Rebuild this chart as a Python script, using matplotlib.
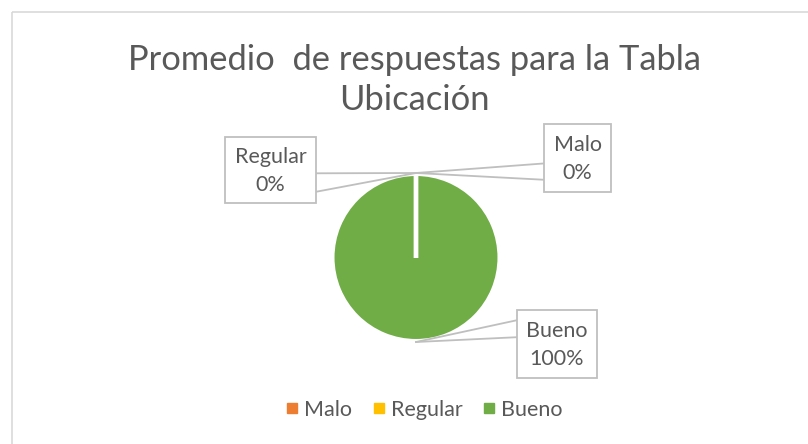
import matplotlib
matplotlib.use("Agg")
import matplotlib.pyplot as plt
from matplotlib.patches import Rectangle
from matplotlib.lines import Line2D
import numpy as np

# ---- data ----
categories = ["Malo", "Regular", "Bueno"]
values = [0, 0, 100]
colors = ["#ED7D31", "#FFC000", "#70AD47"]
title = "Promedio  de respuestas para la Tabla\nUbicación"

W, H = 808, 444
plt.rcParams['font.family'] = ['Lato', 'DejaVu Sans']
TXT = "#595959"
GRID = "#BFBFBF"

fig = plt.figure(figsize=(W / 100, H / 100), dpi=100)

# pie
cx, cy, r = 416, 257.5, 83
half = 100
ax = fig.add_axes([(cx - half) / W, (H - cy - half) / H, 2 * half / W, 2 * half / H])
wedges, _ = ax.pie(values, colors=colors, startangle=90, counterclock=False, radius=1,
                   wedgeprops=dict(edgecolor="white", linewidth=2.2))
# radial slice borders (a full 360 wedge has no radial edge in matplotlib)
for w in wedges:
    for th in (w.theta1, w.theta2):
        t = np.deg2rad(th)
        ax.plot([0, np.cos(t)], [0, np.sin(t)], color="white", lw=3, solid_capstyle="butt", zorder=5)
lim = half / r
ax.set_xlim(-lim, lim)
ax.set_ylim(-lim, lim)
ax.set_aspect("equal")
ax.axis("off")

# overlay axes in pixel coords (y down), drawn above the pie
ov = fig.add_axes([0, 0, 1, 1], zorder=3)
ov.set_xlim(0, W)
ov.set_ylim(H, 0)
ov.axis("off")

# chart border
ov.add_patch(Rectangle((12, 12), W + 20, H + 20, fill=False, ec="#D9D9D9", lw=1.2))

# labels with callout boxes
total = sum(values)
# box layouts (left, top, width, height) in pixels
boxes = {
    "Malo": (544, 124, 67, 68),
    "Regular": (225, 137, 91, 66),
    "Bueno": (517, 310, 80, 68),
}
for w, cat, v in zip(wedges, categories, values):
    ang = np.deg2rad((w.theta1 + w.theta2) / 2)
    rr = r + 1.5
    ax_pt = (cx + rr * np.cos(ang), cy - rr * np.sin(ang))
    bx, by, bw, bh = boxes[cat]
    ov.add_patch(Rectangle((bx, by), bw, bh, facecolor="white", edgecolor=GRID, lw=1.3, zorder=3))
    ov.text(bx + bw / 2, by + bh / 2 + 1, f"{cat}\n{v / total * 100:.0f}%", ha="center", va="center",
            fontsize=15.5, color=TXT, linespacing=1.5, zorder=4)
    edge_x = bx + bw if ax_pt[0] > bx + bw else bx
    if cat == "Malo":
        y1, y2 = by + bh * 0.58, by + bh * 0.82
    elif cat == "Regular":
        y1, y2 = by + bh * 0.55, by + bh * 0.83
    else:
        y1, y2 = by + bh * 0.15, by + bh * 0.40
    for yy in (y1, y2):
        ov.add_line(Line2D([edge_x, ax_pt[0]], [yy, ax_pt[1]], color=GRID, lw=1.3, zorder=2))

# title
fig.text(cx / W - 0.002, 1 - 80 / H, title, ha="center", va="center", fontsize=24.8,
         color=TXT, linespacing=1.33)

# legend
handles = [Line2D([], [], marker="s", ls="none", color=c, markersize=6.5) for c in colors]
leg = fig.legend(handles, categories, loc="center", bbox_to_anchor=(422 / W, 1 - 410 / H),
                 ncol=3, frameon=False, fontsize=15.5, handletextpad=0.05, columnspacing=0.75,
                 handlelength=1.0, labelcolor=TXT)

fig.savefig("out.png", dpi=100)
